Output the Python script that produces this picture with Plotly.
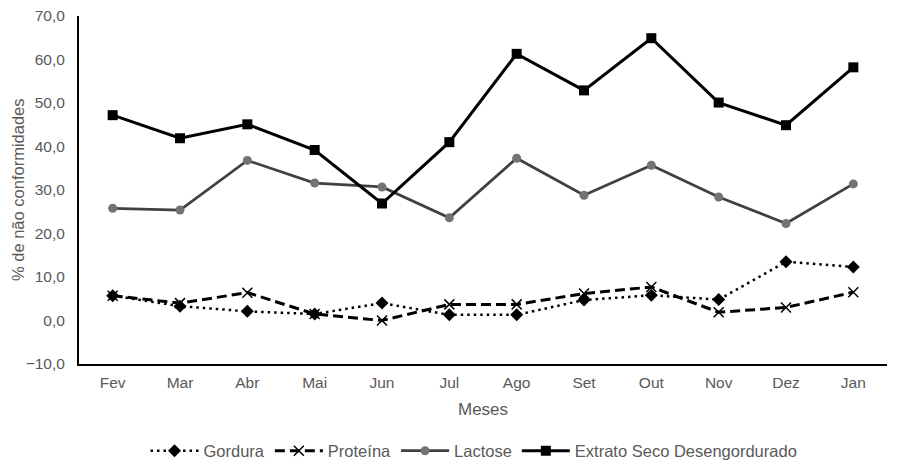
import plotly.graph_objects as go

meses = ["Fev", "Mar", "Abr", "Mai", "Jun", "Jul", "Ago", "Set", "Out", "Nov", "Dez", "Jan"]
gordura = [5.7, 3.3, 2.1, 1.5, 4.0, 1.3, 1.3, 4.7, 5.8, 4.8, 13.5, 12.3]
proteina = [5.7, 4.0, 6.4, 1.5, 0.0, 3.7, 3.7, 6.2, 7.7, 1.9, 3.0, 6.5]
lactose = [25.8, 25.4, 36.8, 31.6, 30.7, 23.6, 37.3, 28.8, 35.7, 28.4, 22.3, 31.4]
extrato = [47.2, 41.9, 45.1, 39.2, 26.9, 41.0, 61.3, 52.9, 64.9, 50.1, 44.9, 58.2]

FONT = "Liberation Sans, Arial, sans-serif"
TXT = "#595959"

fig = go.Figure()
fig.add_trace(go.Scatter(x=meses, y=gordura, name="Gordura", mode="lines+markers",
                         line=dict(color="black", width=2.5, dash="2.5px,4px"),
                         marker=dict(symbol="diamond", size=10, color="black")))
fig.add_trace(go.Scatter(x=meses, y=proteina, name="Proteína", mode="lines+markers",
                         line=dict(color="black", width=3, dash="10px,5px"),
                         marker=dict(symbol="x-thin-open", size=10, color="black",
                                     line=dict(color="black", width=1.5))))
fig.add_trace(go.Scatter(x=meses, y=lactose, name="Lactose", mode="lines+markers",
                         line=dict(color="#404040", width=2.75),
                         marker=dict(symbol="circle", size=9, color="#737373")))
fig.add_trace(go.Scatter(x=meses, y=extrato, name="Extrato Seco Desengordurado", mode="lines+markers",
                         line=dict(color="black", width=3),
                         marker=dict(symbol="square", size=10, color="black")))

# page body has an 8px margin: figure occupies 8..898 x 8..463
W, H = 890, 455
L, R, T, B = 71, 11, 8, 99
pw, ph = W - L - R, H - T - B

fig.update_layout(
    width=W, height=H,
    margin=dict(l=L, r=R, t=T, b=B, autoexpand=False),
    paper_bgcolor="white", plot_bgcolor="white",
    separators=",.",
    font=dict(family=FONT, size=15.5, color=TXT),
    showlegend=True,
    legend=dict(orientation="h", x=(474 - 79) / pw, xanchor="center",
                y=(364 - 451) / ph, yanchor="middle", itemwidth=48,
                font=dict(family=FONT, size=16.5, color=TXT),
                traceorder="normal"),
    xaxis=dict(type="category", range=[-0.5, 11.5], showgrid=False, zeroline=False,
               showline=True, linecolor="black", linewidth=2, ticks="",
               ticklabelstandoff=3, tickfont=dict(size=15.5, color=TXT)),
    yaxis=dict(range=[-10, 70], dtick=10, tickformat=".1f", showgrid=False, zeroline=False,
               showline=True, linecolor="black", linewidth=2, ticks="",
               ticklabeloverflow="allow",
               ticklabelstandoff=9, tickfont=dict(size=15.5, color=TXT)),
    annotations=[
        dict(text="Meses", x=0.5, xref="paper", y=(364 - 409) / ph, yref="paper",
             yanchor="middle", showarrow=False, font=dict(size=17, color=TXT)),
        dict(text="% de não conformidades", textangle=-90,
             x=(18 - 79) / pw, xref="paper", y=(364 - 190) / ph, yref="paper",
             xanchor="center", yanchor="middle", showarrow=False,
             font=dict(size=16.5, color=TXT)),
    ],
)

fig.write_html("out.html")
